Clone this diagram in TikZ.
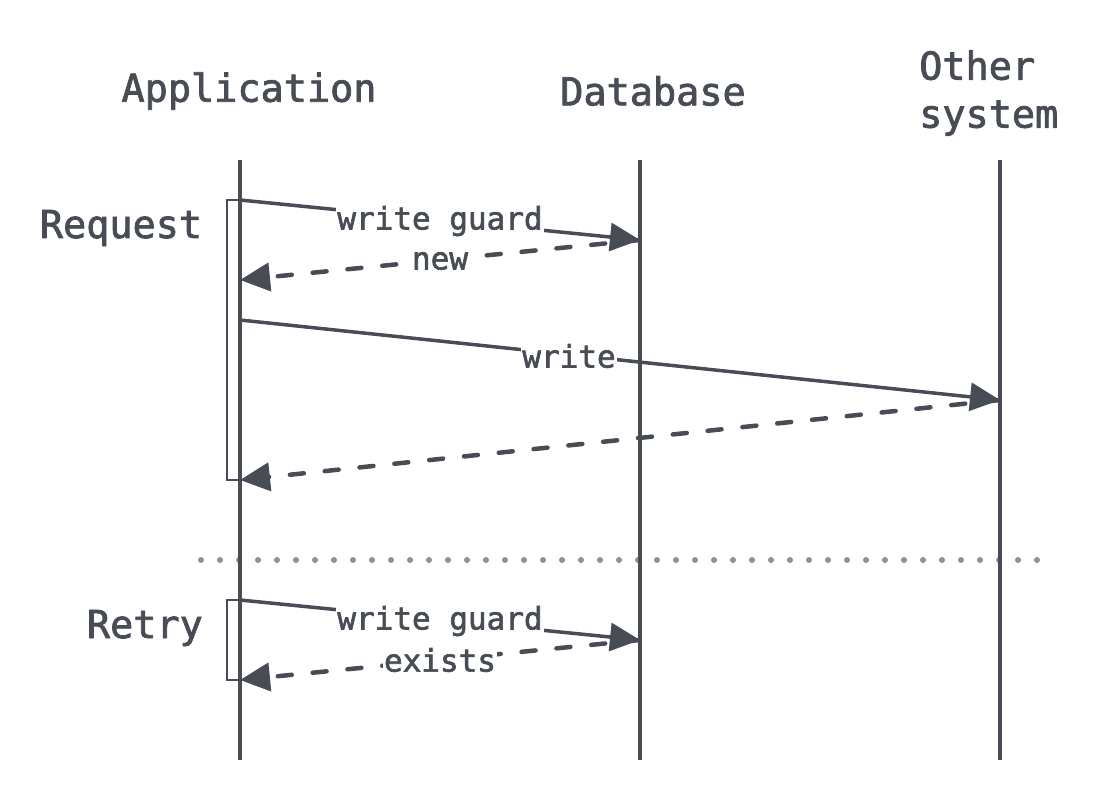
\documentclass[tikz,border=0pt]{standalone}
\usepackage{fontspec}
\newfontfamily\monof[FakeBold=2]{DejaVu Sans Mono}
\usetikzlibrary{arrows.meta}
\definecolor{ink}{HTML}{474C55}
\definecolor{sep}{HTML}{8C9298}
\begin{document}
\begin{tikzpicture}[x=1pt,y=-1pt,
  head/.style={font=\monof\fontsize{38.5}{48}\selectfont, text=ink, inner sep=0pt, align=left},
  lbl/.style={font=\monof\fontsize{31}{34}\selectfont, text=ink, fill=white, inner sep=1pt},
  life/.style={draw=ink, line width=4pt},
  msg/.style={draw=ink, line width=3.5pt, -{Triangle[length=30pt,width=28pt]}},
  ret/.style={msg, line width=4.5pt, dash pattern=on 14pt off 21pt, line cap=round},
  act/.style={draw=ink, line width=1.6pt, fill=white},
  sepdot/.style={fill=sep, draw=none}
]
\useasboundingbox (0,0) rectangle (1120,800);
% headers
\node[head] (happ) at (249,91) {Application};
\node[head] (hdb) at (653,91) {Database};
\node[head, anchor=west] (hoth) at (919,93) {Other\\system};
% group labels
\node[head] (greq) at (121,228) {Request};
\node[head, anchor=east] (gret) at (203,628) {Retry};
% lifeline coordinates
\coordinate (a0) at (240,160); \coordinate (a1) at (240,760);
\coordinate (d0) at (640,160); \coordinate (d1) at (640,760);
\coordinate (o0) at (1000,160); \coordinate (o1) at (1000,760);
% separator (dotted)
\foreach \k in {0,...,44} {
  \fill[sepdot] (201+19*\k,560) circle (3pt);
}
% activation boxes
\draw[act] (227,200) rectangle (240,480);
\draw[act] (227,600) rectangle (240,680);
% lifelines
\draw[life] (a0) -- (a1);
\draw[life] (d0) -- (d1);
\draw[life] (o0) -- (o1);
% message points
\coordinate (m1s) at (240,200); \coordinate (m1e) at (640,240);
\coordinate (m2e) at (240,280);
\coordinate (m3s) at (240,320); \coordinate (m3e) at (1000,400);
\coordinate (m4e) at (240,480);
\coordinate (m5s) at (240,600); \coordinate (m5e) at (640,640);
\coordinate (m6e) at (240,680);
% messages
\draw[msg] (m1s) -- (m1e);
\draw[ret] (m1e) -- (m2e);
\draw[msg] (m3s) -- (m3e);
\draw[ret] (m3e) -- (m4e);
\draw[msg] (m5s) -- (m5e);
\draw[ret] (m5e) -- (m6e);
% labels
\node[lbl] (l1) at (440,221) {write guard};
\node[lbl] (l2) at (440,261) {new};
\node[lbl] (l3) at (569,356) {write};
\node[lbl] (l5) at (440,621) {write guard};
\node[lbl] (l6) at (440,660) {exists};
\end{tikzpicture}
\end{document}
